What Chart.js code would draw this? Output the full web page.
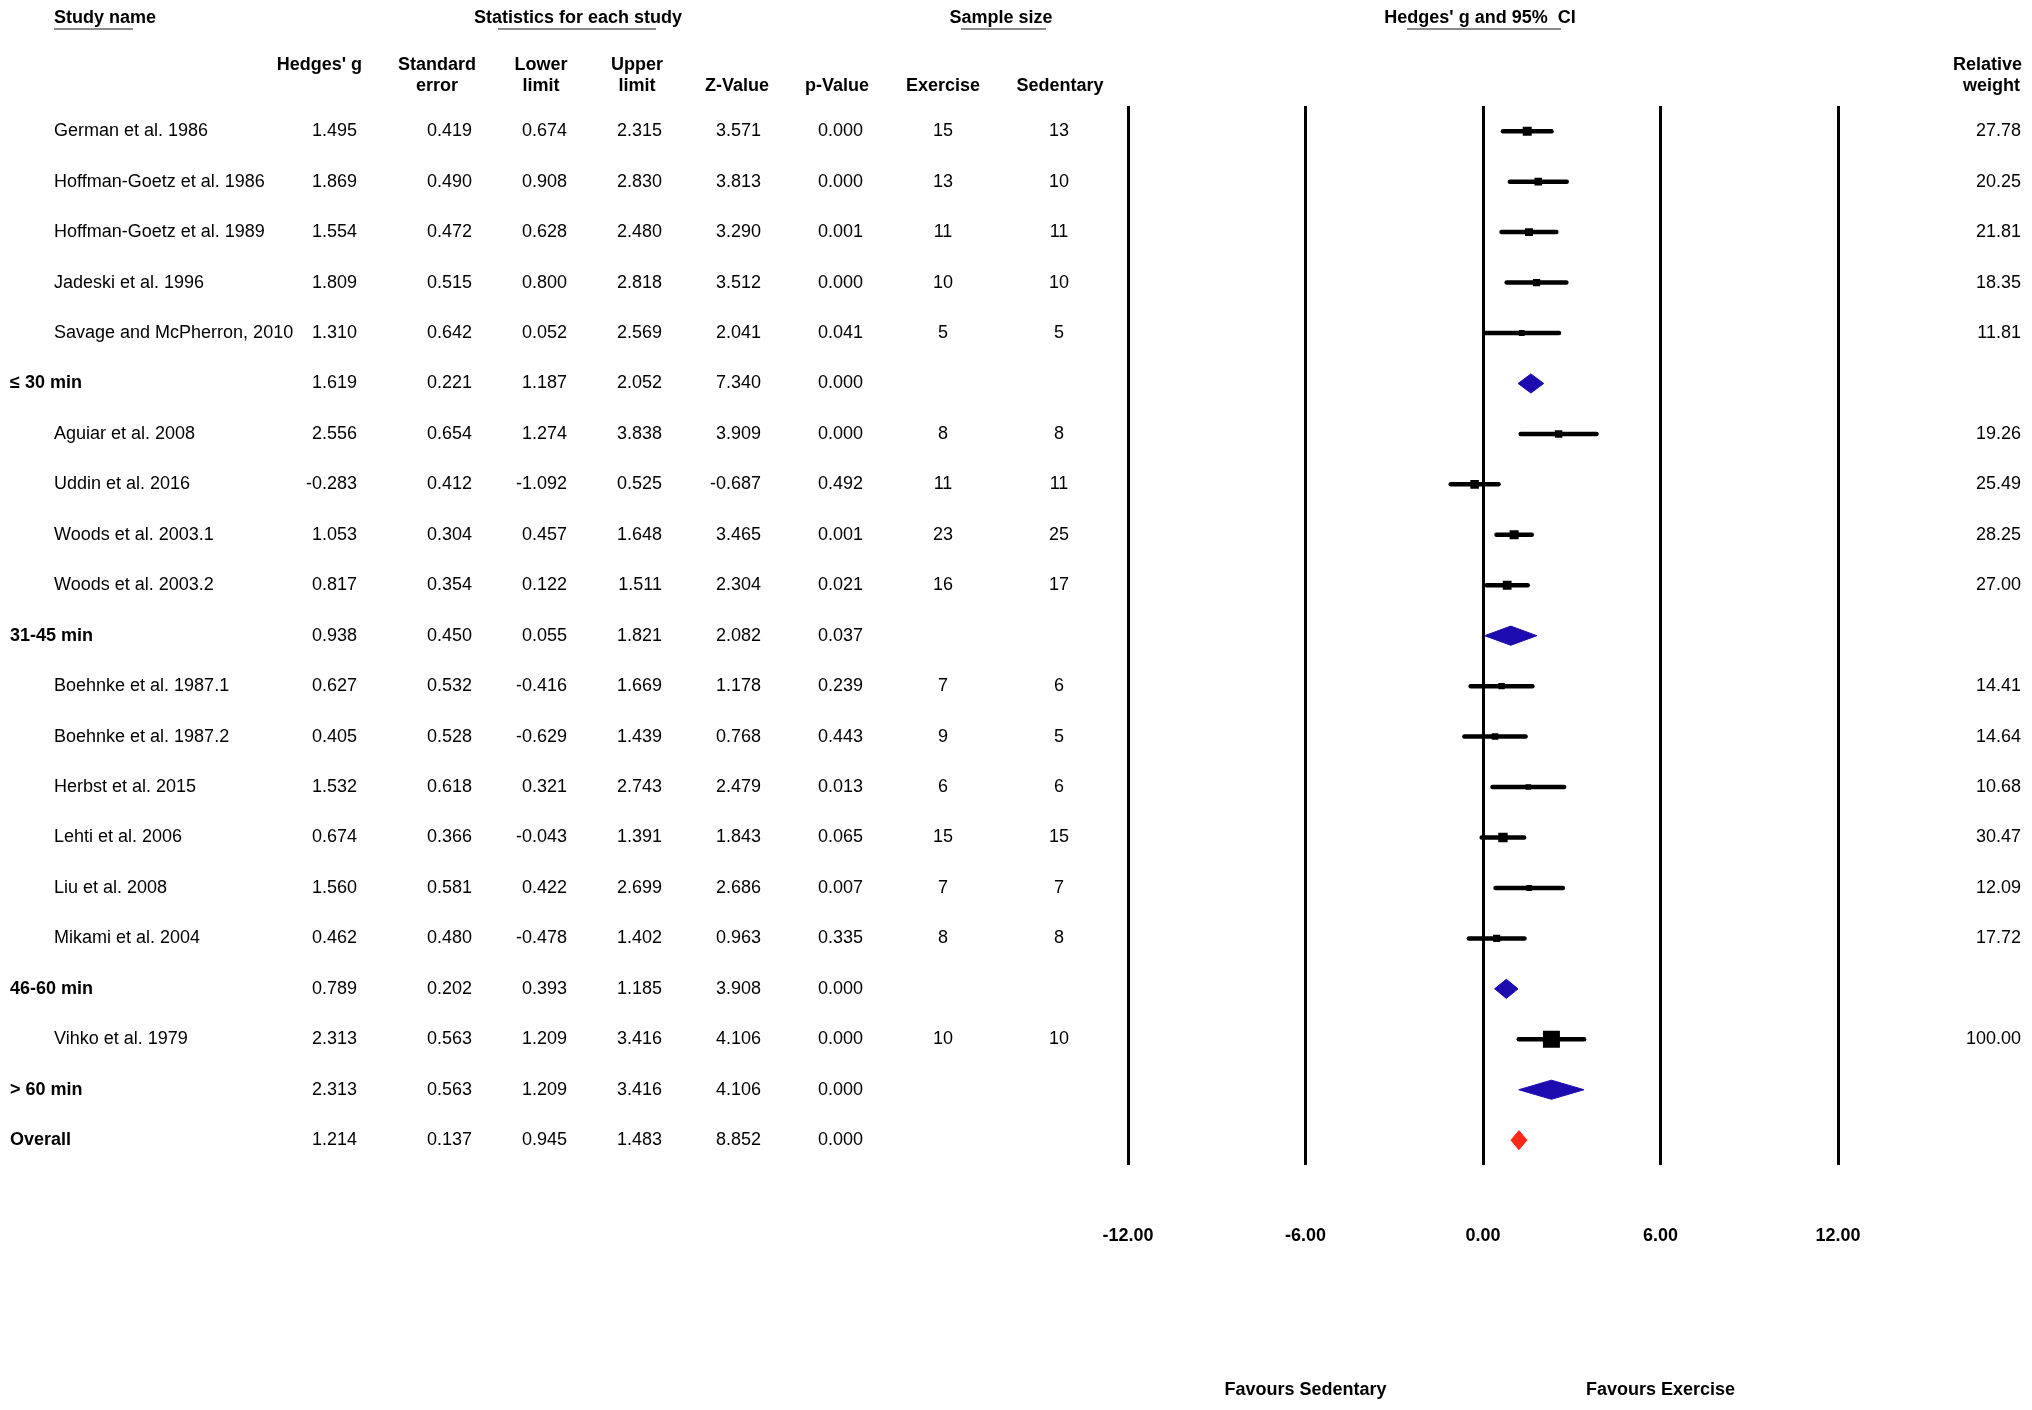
<!DOCTYPE html>
<html>
<head>
<meta charset="utf-8">
<title>Forest plot - Hedges' g by session length</title>
<script src="https://cdn.jsdelivr.net/npm/chart.js@4.4.1/dist/chart.umd.min.js"></script>
<style>
  html, body { margin: 0; padding: 0; background: #fff; }
  canvas { display: block; }
</style>
</head>
<body>
<canvas id="chart" width="2032" height="1410"></canvas>
<script>
// rows of the table, top to bottom
const studyNames = [
    'German et al. 1986', 'Hoffman-Goetz et al. 1986', 'Hoffman-Goetz et al. 1989',
    'Jadeski et al. 1996', 'Savage and McPherron, 2010', '≤ 30 min',
    'Aguiar et al. 2008', 'Uddin et al. 2016', 'Woods et al. 2003.1', 'Woods et al. 2003.2', '31-45 min',
    'Boehnke et al. 1987.1', 'Boehnke et al. 1987.2', 'Herbst et al. 2015', 'Lehti et al. 2006',
    'Liu et al. 2008', 'Mikami et al. 2004', '46-60 min',
    'Vihko et al. 1979', '> 60 min', 'Overall'
];
const rowType = [
    'study', 'study', 'study', 'study', 'study', 'sub',
    'study', 'study', 'study', 'study', 'sub',
    'study', 'study', 'study', 'study', 'study', 'study', 'sub',
    'study', 'sub', 'overall'
];
const hedgesG = [1.495, 1.869, 1.554, 1.809, 1.310, 1.619, 2.556, -0.283, 1.053, 0.817, 0.938,
    0.627, 0.405, 1.532, 0.674, 1.560, 0.462, 0.789, 2.313, 2.313, 1.214];
const stdError = [0.419, 0.490, 0.472, 0.515, 0.642, 0.221, 0.654, 0.412, 0.304, 0.354, 0.450,
    0.532, 0.528, 0.618, 0.366, 0.581, 0.480, 0.202, 0.563, 0.563, 0.137];
const lowerLimit = [0.674, 0.908, 0.628, 0.800, 0.052, 1.187, 1.274, -1.092, 0.457, 0.122, 0.055,
    -0.416, -0.629, 0.321, -0.043, 0.422, -0.478, 0.393, 1.209, 1.209, 0.945];
const upperLimit = [2.315, 2.830, 2.480, 2.818, 2.569, 2.052, 3.838, 0.525, 1.648, 1.511, 1.821,
    1.669, 1.439, 2.743, 1.391, 2.699, 1.402, 1.185, 3.416, 3.416, 1.483];
const zValue = [3.571, 3.813, 3.290, 3.512, 2.041, 7.340, 3.909, -0.687, 3.465, 2.304, 2.082,
    1.178, 0.768, 2.479, 1.843, 2.686, 0.963, 3.908, 4.106, 4.106, 8.852];
const pValue = [0.000, 0.000, 0.001, 0.000, 0.041, 0.000, 0.000, 0.492, 0.001, 0.021, 0.037,
    0.239, 0.443, 0.013, 0.065, 0.007, 0.335, 0.000, 0.000, 0.000, 0.000];
const nExercise = [15, 13, 11, 10, 5, null, 8, 11, 23, 16, null, 7, 9, 6, 15, 7, 8, null, 10, null, null];
const nSedentary = [13, 10, 11, 10, 5, null, 8, 11, 25, 17, null, 6, 5, 6, 15, 7, 8, null, 10, null, null];
const relWeight = [27.78, 20.25, 21.81, 18.35, 11.81, null, 19.26, 25.49, 28.25, 27.00, null,
    14.41, 14.64, 10.68, 30.47, 12.09, 17.72, null, 100.00, null, null];
const axisTicks = [-12, -6, 0, 6, 12];
const favourLabels = ['Favours Sedentary', 'Favours Exercise'];
const favourAt = [-6, 6];

const FONT = '"Liberation Sans", Arial, Helvetica, sans-serif';
const BLUE = '#1c0cb0';
const RED = '#fb2a18';

// columns of the table (x positions in pixels)
const numCols = [
    { values: hedgesG, x: 357, align: 'right', dec: 3 },
    { values: stdError, x: 472, align: 'right', dec: 3 },
    { values: lowerLimit, x: 567, align: 'right', dec: 3 },
    { values: upperLimit, x: 662, align: 'right', dec: 3 },
    { values: zValue, x: 761, align: 'right', dec: 3 },
    { values: pValue, x: 863, align: 'right', dec: 3 },
    { values: nExercise, x: 943, align: 'center', dec: 0 },
    { values: nSedentary, x: 1059, align: 'center', dec: 0 },
    { values: relWeight, x: 2021, align: 'right', dec: 2 }
];
const headers = [
    { text: 'Hedges\' g', x: 362, y: 65, align: 'right' },
    { text: 'Standard', x: 437, y: 65, align: 'center' },
    { text: 'error', x: 437, y: 86, align: 'center' },
    { text: 'Lower', x: 541, y: 65, align: 'center' },
    { text: 'limit', x: 541, y: 86, align: 'center' },
    { text: 'Upper', x: 637, y: 65, align: 'center' },
    { text: 'limit', x: 637, y: 86, align: 'center' },
    { text: 'Z-Value', x: 737, y: 86, align: 'center' },
    { text: 'p-Value', x: 837, y: 86, align: 'center' },
    { text: 'Exercise', x: 943, y: 86, align: 'center' },
    { text: 'Sedentary', x: 1060, y: 86, align: 'center' },
    { text: 'Relative', x: 2022, y: 65, align: 'right' },
    { text: 'weight', x: 2020, y: 86, align: 'right' }
];
const titles = [
    { text: 'Study name', x: 54, align: 'left', ul: [54, 133] },
    { text: 'Statistics for each study', x: 578, align: 'center', ul: [498, 656] },
    { text: 'Sample size', x: 1001, align: 'center', ul: [961, 1046] },
    { text: 'Hedges\' g and 95%  CI', x: 1480, align: 'center', ul: [1407, 1561] }
];

// CI whiskers for single studies, diamonds for pooled rows
const ciSets = [];
const diamondSets = [];
const DIAMOND_HALF = 0.19; // in row units
studyNames.forEach((name, i) => {
    if (rowType[i] === 'study') {
        ciSets.push({
            type: 'line',
            data: [{ x: lowerLimit[i], y: i }, { x: upperLimit[i], y: i }],
            borderColor: '#000',
            borderWidth: 4.5,
            borderCapStyle: 'round',
            pointRadius: 0,
            order: 1
        });
    } else {
        const c = rowType[i] === 'overall' ? RED : BLUE;
        diamondSets.push({
            type: 'line',
            data: [
                { x: lowerLimit[i], y: i },
                { x: hedgesG[i], y: i - DIAMOND_HALF },
                { x: upperLimit[i], y: i },
                { x: hedgesG[i], y: i + DIAMOND_HALF },
                { x: lowerLimit[i], y: i }
            ],
            borderColor: c,
            backgroundColor: c,
            borderWidth: 1,
            fill: 'shape',
            tension: 0,
            pointRadius: 0,
            order: 2
        });
    }
});

// squares sized by relative weight
const squarePts = [];
const squareRadius = [];
studyNames.forEach((name, i) => {
    if (rowType[i] === 'study') {
        squarePts.push({ x: hedgesG[i], y: i });
        squareRadius.push(12 * Math.sqrt(relWeight[i] / 100));
    }
});

function fmt(v, dec) {
    if (v === null || v === undefined) return '';
    return v.toFixed(dec);
}

const tablePlugin = {
    id: 'forestTable',
    afterDraw(chart) {
        const ctx = chart.ctx;
        const ys = chart.scales.y;
        const xs = chart.scales.x;
        ctx.save();
        ctx.fillStyle = '#000';
        ctx.textBaseline = 'middle';

        ctx.font = 'bold 18px ' + FONT;
        titles.forEach(t => {
            ctx.textAlign = t.align;
            ctx.fillText(t.text, t.x, 18);
        });
        ctx.strokeStyle = '#666';
        ctx.lineWidth = 1.5;
        titles.forEach(t => {
            ctx.beginPath();
            ctx.moveTo(t.ul[0], 29);
            ctx.lineTo(t.ul[1], 29);
            ctx.stroke();
        });

        headers.forEach(h => {
            ctx.textAlign = h.align;
            ctx.fillText(h.text, h.x, h.y);
        });

        studyNames.forEach((name, i) => {
            const py = ys.getPixelForValue(i);
            const isStudy = rowType[i] === 'study';
            ctx.font = (isStudy ? '' : 'bold ') + '18px ' + FONT;
            ctx.textAlign = 'left';
            ctx.fillText(name, isStudy ? 54 : 10, py);
            ctx.font = '18px ' + FONT;
            numCols.forEach(c => {
                ctx.textAlign = c.align;
                ctx.fillText(fmt(c.values[i], c.dec), c.x, py);
            });
        });

        ctx.font = 'bold 18px ' + FONT;
        ctx.textAlign = 'center';
        favourLabels.forEach((t, k) => {
            ctx.fillText(t, xs.getPixelForValue(favourAt[k]), 1390);
        });
        ctx.restore();
    }
};

const ctx = document.getElementById('chart').getContext('2d');
const chart = new Chart(ctx, {
    type: 'scatter',
    data: {
        datasets: [
            {
                type: 'scatter',
                data: squarePts,
                pointStyle: 'rect',
                pointRadius: squareRadius,
                pointBackgroundColor: '#000',
                pointBorderWidth: 0,
                order: 0
            },
            ...ciSets,
            ...diamondSets
        ]
    },
    options: {
        responsive: false,
        animation: false,
        devicePixelRatio: 1,
        layout: { padding: { left: 1128, right: 194, top: 106, bottom: 103 } },
        plugins: {
            legend: { display: false },
            tooltip: { enabled: false }
        },
        scales: {
            x: {
                type: 'linear',
                min: -12,
                max: 12,
                afterBuildTicks: scale => { scale.ticks = axisTicks.map(v => ({ value: v })); },
                grid: { color: '#000', lineWidth: 3, drawTicks: false },
                border: { display: false },
                ticks: {
                    padding: 60,
                    color: '#000',
                    font: { family: FONT, size: 18, weight: 'bold' },
                    callback: v => Number(v).toFixed(2)
                }
            },
            y: {
                type: 'linear',
                reverse: true,
                min: -0.5,
                max: 20.5,
                display: false
            }
        }
    },
    plugins: [tablePlugin]
});
</script>
</body>
</html>
